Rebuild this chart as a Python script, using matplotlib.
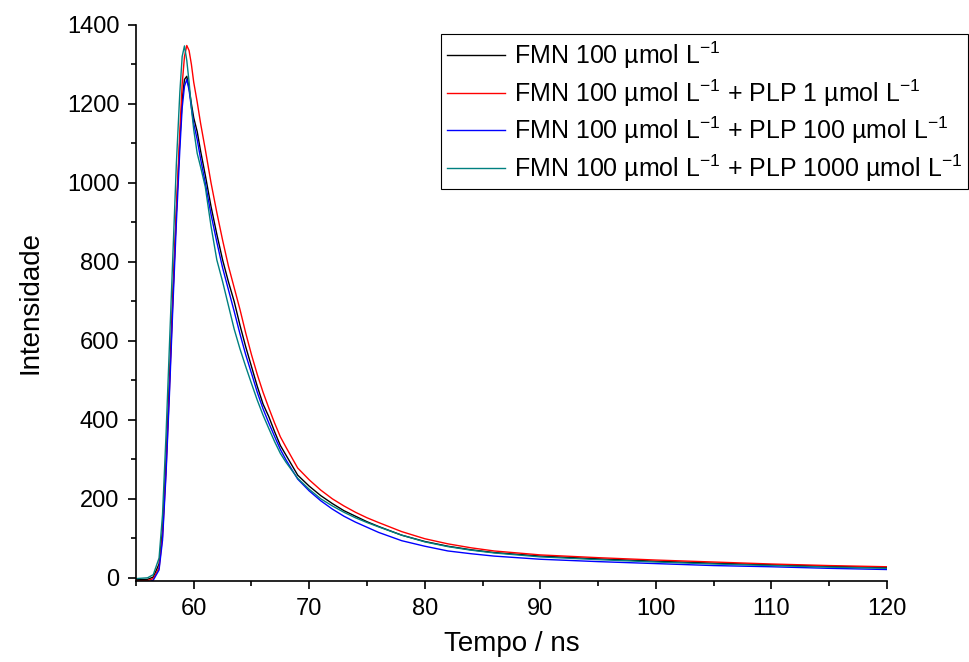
import matplotlib
matplotlib.use("Agg")
import matplotlib.pyplot as plt
from matplotlib.ticker import MultipleLocator

plt.rcParams["font.family"] = ["Liberation Sans", "DejaVu Sans"]
plt.rcParams["mathtext.fontset"] = "custom"
plt.rcParams["mathtext.rm"] = "Liberation Sans"
plt.rcParams["mathtext.it"] = "Liberation Sans:italic"

# time axis (ns)
tempo = [55, 56, 56.5, 57, 57.3, 57.6, 57.9, 58.2, 58.5, 58.8, 59.0, 59.2, 59.4,
         59.6, 59.8, 60.0, 60.3, 60.6, 61.0, 61.5, 62, 62.5, 63, 63.5, 64, 64.5,
         65, 65.5, 66, 66.5, 67, 67.5, 68, 69, 70, 71, 72, 73, 74, 75, 76, 78,
         80, 82, 84, 86, 90, 95, 100, 105, 110, 115, 120]

fmn = [-5, -4, 2, 35, 120, 290, 500, 720, 930, 1110, 1210, 1262, 1270,
       1240, 1200, 1165, 1130, 1080, 1020, 940, 870, 805, 750, 700, 640, 585,
       535, 485, 440, 408, 370, 335, 310, 260, 232, 208, 188, 170, 156, 142, 130, 108,
       92, 80, 71, 64, 55, 48, 42, 37, 33, 29, 26]

plp_1 = [-8, -7, -2, 25, 105, 270, 480, 710, 930, 1130, 1250, 1320, 1348,
         1335, 1300, 1255, 1205, 1150, 1085, 1000, 925, 855, 790, 735, 680, 620,
         565, 515, 470, 430, 392, 357, 330, 278, 248, 222, 200, 182, 166, 152, 140, 117,
         99, 86, 76, 68, 58, 51, 45, 40, 35, 31, 28]

plp_100 = [-12, -12, -6, 20, 95, 260, 465, 690, 900, 1085, 1190, 1245, 1262,
           1235, 1190, 1150, 1110, 1060, 1000, 920, 850, 785, 730, 675, 618, 565,
           518, 470, 428, 392, 358, 325, 298, 250, 220, 195, 174, 156, 141, 128, 115, 94,
           80, 68, 61, 55, 47, 41, 36, 31, 28, 24, 21]

plp_1000 = [-2, 0, 8, 50, 160, 360, 590, 820, 1050, 1230, 1320, 1347, 1310,
            1255, 1190, 1135, 1075, 1040, 990, 890, 805, 750, 690, 630, 580, 535,
            492, 450, 412, 378, 345, 315, 292, 252, 224, 200, 182, 166, 152, 140, 129, 108,
            91, 79, 70, 63, 53, 46, 40, 35, 31, 27, 24]

unit = r"µmol L$^{-1}$"
labels = [
    f"FMN 100 {unit}",
    f"FMN 100 {unit} + PLP 1 {unit}",
    f"FMN 100 {unit} + PLP 100 {unit}",
    f"FMN 100 {unit} + PLP 1000 {unit}",
]
colors = ["#000000", "#ff0000", "#0000ff", "#008080"]
series = [fmn, plp_1, plp_100, plp_1000]

fig = plt.figure(figsize=(9.69, 6.62), dpi=100)
ax = fig.add_axes([0.1403, 0.1224, 0.775, 0.8399])

for ys, c, lab in zip(series, colors, labels):
    ax.plot(tempo, ys, color=c, linewidth=1.0, label=lab)

ax.set_xlim(55, 120)
ax.set_ylim(-8, 1400)
ax.xaxis.set_major_locator(MultipleLocator(10))
ax.xaxis.set_minor_locator(MultipleLocator(5))
ax.yaxis.set_major_locator(MultipleLocator(200))
ax.yaxis.set_minor_locator(MultipleLocator(100))

for side in ("top", "right"):
    ax.spines[side].set_visible(False)
for side in ("left", "bottom"):
    ax.spines[side].set_linewidth(1.2)

ax.tick_params(which="major", direction="out", length=6, width=1.2,
               labelsize=17, pad=6)
ax.tick_params(which="minor", direction="out", length=3.6, width=1.2)

ax.set_xlabel("Tempo / ns", fontsize=20, labelpad=8)
ax.set_ylabel("Intensidade", fontsize=20, labelpad=17)

leg = ax.legend(loc="upper left", bbox_to_anchor=(441 / 969, 1 - 34 / 662),
                bbox_transform=fig.transFigure, fontsize=18, frameon=True,
                fancybox=False, framealpha=1, edgecolor="black",
                handlelength=2.35, handletextpad=0.34, borderpad=0.22,
                labelspacing=0.25, borderaxespad=0)
leg.get_frame().set_linewidth(0.8)

fig.savefig("out.png", dpi=100)
